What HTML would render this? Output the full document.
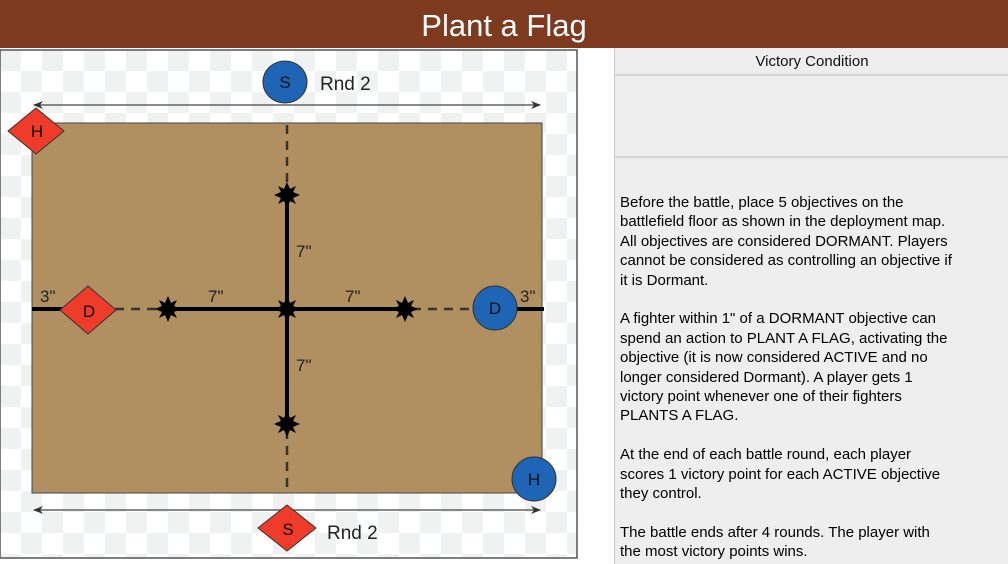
<!DOCTYPE html>
<html><head><meta charset="utf-8"><style>
body{margin:0;width:1008px;height:564px;overflow:hidden;background:#fff;font-family:"Liberation Sans",Arial,sans-serif;position:relative}
#title{position:absolute;left:0;top:0;width:1008px;height:48px;background:#7e3a1f;color:#fff;font-size:31px;text-align:center;line-height:52px}
#panel{position:absolute;left:614px;top:48px;width:394px;height:516px;background:#eeeeee;border-left:1px solid #c8c8c8}
.row{position:absolute;left:0;width:394px;border-bottom:2px solid #d6d6d6}
#txt{position:absolute;left:5px;top:145px;font-size:15px;line-height:19.4px;color:#000;white-space:nowrap}
</style></head><body>
<div id="title">Plant a Flag</div>
<svg style="position:absolute;left:0;top:48px" width="600" height="516" viewBox="0 48 600 516">
<defs>
<pattern id="ck" x="0" y="50" width="42" height="42" patternUnits="userSpaceOnUse">
<rect width="42" height="42" fill="#fff"/><rect width="21" height="21" fill="#f0f2f2"/><rect x="21" y="21" width="21" height="21" fill="#f0f2f2"/>
</pattern>
<g id="st"><circle r="7" fill="#000"/><polygon fill="#000" points="0,-13 3,-6 9,-9 6,-3 13,0 6,3 9,9 3,6 0,13 -3,6 -9,9 -6,3 -13,0 -6,-3 -9,-9 -3,-6"/></g>
<marker id="ar" markerWidth="10" markerHeight="8" refX="9" refY="4" orient="auto-start-reverse" markerUnits="userSpaceOnUse"><path d="M0,0 L10,4 L0,8 L3,4z" fill="#333"/></marker>
</defs>
<rect x="0" y="50" width="577" height="508" fill="url(#ck)" stroke="#555" stroke-width="1.5"/>
<rect x="32" y="123" width="510" height="370" fill="#b08f61" stroke="#444" stroke-width="1"/>
<line x1="34" y1="105" x2="540" y2="105" stroke="#444" stroke-width="1.3" marker-start="url(#ar)" marker-end="url(#ar)"/>
<line x1="34" y1="510" x2="540" y2="510" stroke="#444" stroke-width="1.3" marker-start="url(#ar)" marker-end="url(#ar)"/>
<g stroke="#333" stroke-width="2.5" stroke-dasharray="9,7">
<line x1="287" y1="125" x2="287" y2="190"/><line x1="287" y1="430" x2="287" y2="492"/>
<line x1="115" y1="309" x2="162" y2="309"/><line x1="412" y1="309" x2="480" y2="309"/>
</g>
<g stroke="#000" stroke-width="4">
<line x1="287" y1="195" x2="287" y2="424"/><line x1="168" y1="309" x2="405" y2="309"/>
<line x1="32" y1="309" x2="62" y2="309"/><line x1="510" y1="309" x2="544" y2="309"/>
</g>
<use href="#st" x="287" y="195"/><use href="#st" x="287" y="424"/><use href="#st" x="168" y="309"/><use href="#st" x="405" y="309"/><use href="#st" x="287" y="309"/>
<g font-size="17" fill="#222">
<text x="296" y="257">7"</text><text x="296" y="371">7"</text>
<text x="208" y="302">7"</text><text x="345" y="302">7"</text>
<text x="40" y="302">3"</text><text x="520" y="302">3"</text>
<text x="320" y="90" font-size="19">Rnd 2</text><text x="327" y="539" font-size="19">Rnd 2</text>
</g>
<g stroke="#333" stroke-width="1">
<polygon points="36,108 64,131 36,154 8,131" fill="#ee3b2a"/>
<polygon points="88,286 116,310 88,334 60,310" fill="#ee3b2a"/>
<polygon points="287,505 316,528 287,551 258,528" fill="#ee3b2a"/>
<ellipse cx="285" cy="82" rx="22" ry="21" fill="#1f65b5"/>
<ellipse cx="495" cy="308" rx="22" ry="22" fill="#1f65b5"/>
<ellipse cx="534" cy="479" rx="22" ry="22" fill="#1f65b5"/>
</g>
<g font-size="17" text-anchor="middle" fill="#111">
<text x="37" y="137">H</text><text x="89" y="317">D</text><text x="288" y="535">S</text>
<text x="285" y="88">S</text><text x="495" y="314">D</text><text x="534" y="485">H</text>
</g>
</svg>
<div id="panel">
<div class="row" style="top:0;height:26px;text-align:center;font-size:15px;line-height:27px;color:#111">Victory Condition</div>
<div class="row" style="top:28px;height:80px"></div>
<div id="txt">Before the battle, place 5 objectives on the<br>battlefield floor as shown in the deployment map.<br>All objectives are considered DORMANT. Players<br>cannot be considered as controlling an objective if<br>it is Dormant.<br><br>A fighter within 1" of a DORMANT objective can<br>spend an action to PLANT A FLAG, activating the<br>objective (it is now considered ACTIVE and no<br>longer considered Dormant). A player gets 1<br>victory point whenever one of their fighters<br>PLANTS A FLAG.<br><br>At the end of each battle round, each player<br>scores 1 victory point for each ACTIVE objective<br>they control.<br><br>The battle ends after 4 rounds. The player with<br>the most victory points wins.</div>
</div>
</body></html>
